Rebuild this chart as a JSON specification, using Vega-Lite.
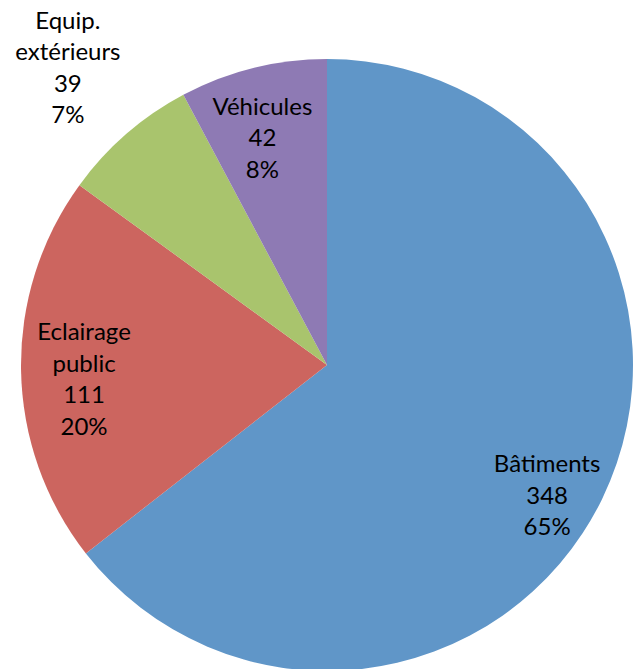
{
  "$schema": "https://vega.github.io/schema/vega-lite/v6.json",
  "width": 628,
  "height": 608,
  "autosize": "none",
  "padding": {"left": 13, "top": 61, "right": 0, "bottom": 0},
  "background": "white",
  "view": {"stroke": null},
  "data": {"values": [
    {"cat": "Bâtiments", "value": 348, "ord": 1, "label": "Bâtiments\n348\n65%"},
    {"cat": "Eclairage public", "value": 111, "ord": 2, "label": "Eclairage\npublic\n111\n20%"},
    {"cat": "Equip. extérieurs", "value": 39, "ord": 3, "label": "Equip.\nextérieurs\n39\n7%"},
    {"cat": "Véhicules", "value": 42, "ord": 4, "label": "Véhicules\n42\n8%"}
  ]},
  "encoding": {
    "theta": {"field": "value", "type": "quantitative", "stack": true},
    "order": {"field": "ord", "type": "quantitative"}
  },
  "layer": [
    {
      "mark": {"type": "arc", "outerRadius": 306, "stroke": null},
      "encoding": {
        "color": {
          "field": "cat", "type": "nominal", "legend": null,
          "scale": {
            "domain": ["Bâtiments", "Eclairage public", "Equip. extérieurs", "Véhicules"],
            "range": ["#6096C8", "#CC655F", "#A9C46D", "#8E7AB4"]
          }
        }
      }
    },
    {
      "mark": {"type": "text", "font": "Lato", "fontSize": 24, "lineBreak": "\n", "lineHeight": 31.5, "baseline": "middle", "align": "center", "color": "black", "radius": 256, "dx": -10, "dy": -12},
      "encoding": {"text": {"condition": {"test": "datum.cat === 'Bâtiments'", "field": "label"}, "value": ""}}
    },
    {
      "mark": {"type": "text", "font": "Lato", "fontSize": 24, "lineBreak": "\n", "lineHeight": 31.5, "baseline": "middle", "align": "center", "color": "black", "radius": 243, "dx": 0, "dy": -36},
      "encoding": {"text": {"condition": {"test": "datum.cat === 'Eclairage public'", "field": "label"}, "value": ""}}
    },
    {
      "mark": {"type": "text", "font": "Lato", "fontSize": 24, "lineBreak": "\n", "lineHeight": 31.5, "baseline": "middle", "align": "center", "color": "black", "radius": 395, "dx": 0, "dy": -45},
      "encoding": {"text": {"condition": {"test": "datum.cat === 'Equip. extérieurs'", "field": "label"}, "value": ""}}
    },
    {
      "mark": {"type": "text", "font": "Lato", "fontSize": 24, "lineBreak": "\n", "lineHeight": 31.5, "baseline": "middle", "align": "center", "color": "black", "radius": 234, "dx": -8, "dy": -30},
      "encoding": {"text": {"condition": {"test": "datum.cat === 'Véhicules'", "field": "label"}, "value": ""}}
    }
  ]
}
